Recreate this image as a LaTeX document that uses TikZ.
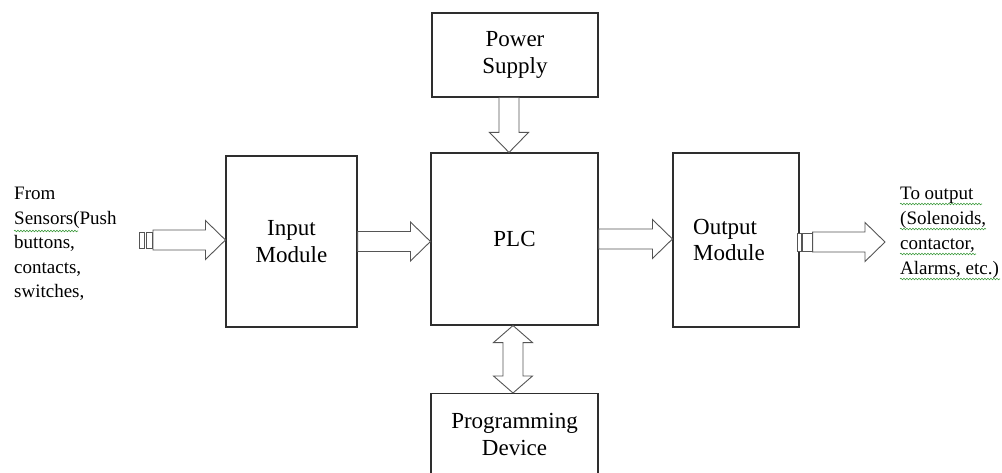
\documentclass[tikz,border=0pt]{standalone}
\usepackage{fontspec}
\setmainfont{Liberation Serif}
\usetikzlibrary{calc,decorations.pathmorphing}
\definecolor{boxLine}{HTML}{2E2E2E}
\definecolor{arrowLine}{HTML}{555555}
\definecolor{spellGreen}{HTML}{3E9B3E}

% hollow block arrow from #1 to #2
\newcommand{\fatarrow}[2]{%
  \draw[fatline] ($(#1)!10pt!90:(#2)$) -- ($(#2)!20pt!(#1)!10pt!-90:(#1)$)
    -- ($(#2)!20pt!(#1)!19.5pt!-90:(#1)$) -- (#2)
    -- ($(#2)!20pt!(#1)!19.5pt!90:(#1)$) -- ($(#2)!20pt!(#1)!10pt!90:(#1)$)
    -- ($(#1)!10pt!-90:(#2)$) -- cycle;}
% same, with a head at both ends
\newcommand{\fatarrowboth}[2]{%
  \draw[fatline] ($(#1)!17pt!(#2)!10pt!90:(#2)$) -- ($(#2)!17pt!(#1)!10pt!-90:(#1)$)
    -- ($(#2)!17pt!(#1)!19.5pt!-90:(#1)$) -- (#2)
    -- ($(#2)!17pt!(#1)!19.5pt!90:(#1)$) -- ($(#2)!17pt!(#1)!10pt!90:(#1)$)
    -- ($(#1)!17pt!(#2)!10pt!-90:(#2)$) -- ($(#1)!17pt!(#2)!19.5pt!-90:(#2)$)
    -- (#1) -- ($(#1)!17pt!(#2)!19.5pt!90:(#2)$) -- cycle;}

\begin{document}
\begin{tikzpicture}[
  x=1pt, y=-1pt,
  font=\fontsize{23}{26.5}\selectfont,
  block/.style={rectangle, draw=boxLine, line width=1.1pt, fill=white, align=center, inner sep=0pt},
  fatline/.style={draw=arrowLine, line width=0.9pt, line join=miter, fill=white},
  sidetext/.style={align=left, inner sep=0pt, font=\fontsize{19}{24.5}\selectfont},
  squiggle/.style={draw=spellGreen, line width=0.6pt, decorate, decoration={snake, amplitude=0.8pt, segment length=3pt}}
]
\useasboundingbox (0,0) rectangle (1002,473);

\node[block, minimum width=166pt, minimum height=84pt] (power) at (515,55) {Power\\Supply};
\node[block, minimum width=167pt, minimum height=172pt] (plc) at (514.5,239) {PLC};
\node[block, minimum width=131pt, minimum height=171pt] (input) at (291.5,241.5) {Input\\Module};
\node[block, minimum width=126pt, minimum height=174pt, align=left] (output) at (736,240) {Output\\Module\hspace*{14pt}};
\node[block, minimum width=167pt, minimum height=82pt, anchor=north] (prog) at (514.5,393) {Programming\\Device};

\node[sidetext, anchor=west] (sensors) at (14,244)
  {From\\Sensors(Push\\buttons,\\contacts,\\switches,};
\node[sidetext, anchor=west, font=\fontsize{19}{25}\selectfont] (actuators) at (900,233)
  {To output\\(Solenoids,\\contactor,\\Alarms, etc.)};

% spell-check marks under the side texts
\draw[squiggle] (14,231) -- (78,231);
\draw[squiggle] (900,204) -- (982,204);
\draw[squiggle] (900,229) -- (986,229);
\draw[squiggle] (900,254) -- (976,254);
\draw[squiggle] (900,279) -- (1000,279);

\coordinate (srcin) at (139,240);
\coordinate (sinkout) at (885,242);

% tails of the outer arrows
\draw[fatline] ($(srcin)+(0,-8)$) rectangle ++(5,16);
\draw[fatline] ($(srcin)+(7,-8)$) rectangle ++(6,16);
\draw[fatline] ($(output.east)+(-2,-7)$) rectangle ++(4,18);
\draw[fatline] ($(output.east)+(3,-7)$) rectangle ++(10,18);

% block arrows
\fatarrow{$(srcin)+(14,0)$}{srcin -| input.west}
\fatarrow{input.east}{input.east -| plc.west}
\fatarrow{plc.east}{plc.east -| output.west}
\fatarrow{$(output.east)+(13,2)$}{sinkout}
\fatarrow{$(power.south)+(-6,0)$}{$(plc.north)+(-5.5,0)$}
\fatarrowboth{$(plc.south)+(-1.5,0)$}{$(prog.north)+(-1.5,0)$}
\end{tikzpicture}
\end{document}
